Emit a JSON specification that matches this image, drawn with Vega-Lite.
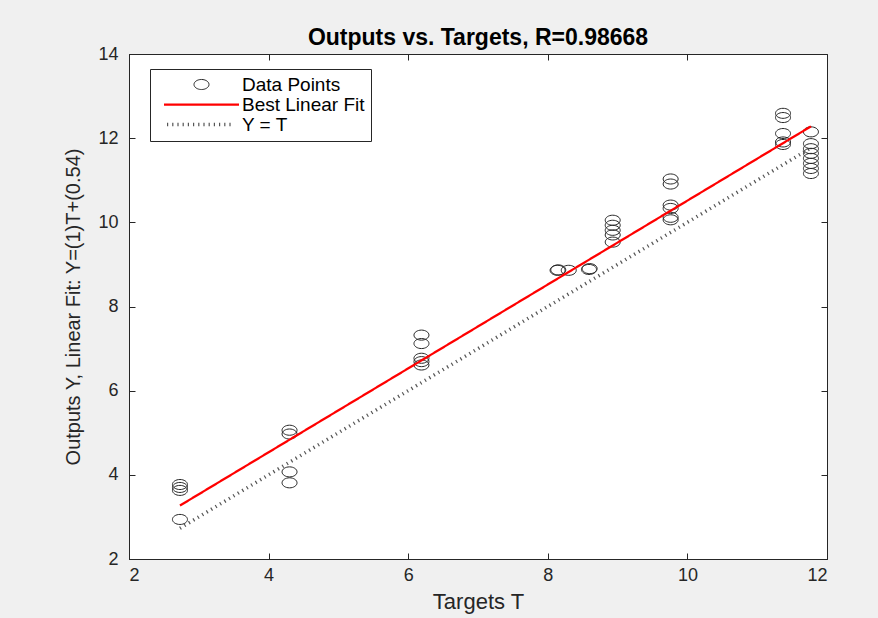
{
  "$schema": "https://vega.github.io/schema/vega-lite/v6.json",
  "width": 698,
  "height": 505,
  "autosize": {"type": "none"},
  "padding": {"left": 129, "top": 54, "right": 51, "bottom": 59},
  "background": "#f0f0f0",
  "title": {
    "text": "Outputs vs. Targets, R=0.98668",
    "font": "Liberation Sans",
    "fontSize": 23,
    "fontWeight": "bold",
    "color": "#000000",
    "baseline": "alphabetic",
    "offset": 8,
    "dy": 31,
    "anchor": "middle"
  },
  "config": {
    "view": {"fill": "white", "stroke": "#262626", "strokeWidth": 1},
    "axis": {
      "grid": false,
      "labelFont": "Liberation Sans",
      "labelFontSize": 18,
      "labelColor": "#262626",
      "titleFont": "Liberation Sans",
      "titleFontSize": 22,
      "titleFontWeight": "normal",
      "titleColor": "#262626",
      "tickColor": "#262626",
      "domainColor": "#262626",
      "tickSize": -6
    },
    "legend": {
      "orient": "none",
      "legendX": 21,
      "legendY": 15,
      "strokeColor": "#262626",
      "fillColor": "white",
      "padding": 6,
      "symbolSize": 225,
      "symbolOffset": 36,
      "labelOffset": 31,
      "rowPadding": 0,
      "labelFont": "Liberation Sans",
      "labelFontSize": 19,
      "labelColor": "#000000",
      "direction": "vertical",
      "columns": 1
    }
  },
  "datasets": {
    "points": [
      {"t": 2.73, "y": 3.77}, {"t": 2.73, "y": 3.70}, {"t": 2.73, "y": 3.63}, {"t": 2.73, "y": 2.94},
      {"t": 4.30, "y": 5.06}, {"t": 4.30, "y": 4.97}, {"t": 4.30, "y": 4.07}, {"t": 4.30, "y": 3.81},
      {"t": 6.19, "y": 7.32}, {"t": 6.19, "y": 7.12}, {"t": 6.19, "y": 6.77}, {"t": 6.19, "y": 6.69}, {"t": 6.19, "y": 6.61},
      {"t": 8.14, "y": 8.86}, {"t": 8.15, "y": 8.87}, {"t": 8.30, "y": 8.86}, {"t": 8.59, "y": 8.88}, {"t": 8.60, "y": 8.90},
      {"t": 8.93, "y": 10.05}, {"t": 8.93, "y": 9.93}, {"t": 8.93, "y": 9.81}, {"t": 8.93, "y": 9.70}, {"t": 8.93, "y": 9.53},
      {"t": 9.76, "y": 11.03}, {"t": 9.76, "y": 10.91}, {"t": 9.76, "y": 10.41}, {"t": 9.76, "y": 10.33}, {"t": 9.76, "y": 10.12}, {"t": 9.76, "y": 10.06},
      {"t": 11.37, "y": 12.59}, {"t": 11.37, "y": 12.49}, {"t": 11.37, "y": 12.11}, {"t": 11.37, "y": 11.91}, {"t": 11.37, "y": 11.85},
      {"t": 11.77, "y": 12.15}, {"t": 11.77, "y": 11.87}, {"t": 11.77, "y": 11.75}, {"t": 11.77, "y": 11.64}, {"t": 11.77, "y": 11.52}, {"t": 11.77, "y": 11.40}, {"t": 11.77, "y": 11.28}, {"t": 11.77, "y": 11.16}
    ],
    "lines": [
      {"t": 2.73, "y": 3.27, "series": "Best Linear Fit"},
      {"t": 11.77, "y": 12.28, "series": "Best Linear Fit"},
      {"t": 2.73, "y": 2.73, "series": "Y = T"},
      {"t": 11.77, "y": 11.77, "series": "Y = T"}
    ]
  },
  "layer": [
    {
      "data": {"name": "points"},
      "transform": [{"calculate": "'Data Points'", "as": "series"}],
      "mark": {"type": "point", "filled": false, "size": 225, "strokeWidth": 1, "opacity": 1},
      "encoding": {
        "x": {
          "field": "t", "type": "quantitative",
          "scale": {"domain": [2, 12], "nice": false, "zero": false},
          "axis": {"orient": "bottom", "title": "Targets T", "values": [2, 4, 6, 8, 10, 12], "labelPadding": 13, "titleBaseline": "alphabetic", "titleY": 49}
        },
        "y": {
          "field": "y", "type": "quantitative",
          "scale": {"domain": [2, 14], "nice": false, "zero": false},
          "axis": {"orient": "left", "title": "Outputs Y,  Linear Fit: Y=(1)T+(0.54)", "values": [2, 4, 6, 8, 10, 12, 14], "labelPadding": 17, "titleBaseline": "alphabetic", "titleX": -50, "titleFontSize": 20}
        },
        "color": {
          "field": "series", "type": "nominal",
          "scale": {"domain": ["Data Points", "Best Linear Fit", "Y = T"], "range": ["#262626", "#ff0000", "#555555"]},
          "legend": {"title": null}
        },
        "shape": {
          "field": "series", "type": "nominal",
          "scale": {"domain": ["Data Points", "Best Linear Fit", "Y = T"], "range": ["M -1 0 A 1 0.67 0 1 0 1 0 A 1 0.67 0 1 0 -1 0 Z", "M -5 0 L 5 0", "M -4.6 0 L 4.3 0"]},
          "legend": {"title": null}
        }
      }
    },
    {
      "data": {"name": "lines"},
      "mark": {"type": "line"},
      "encoding": {
        "x": {"field": "t", "type": "quantitative", "axis": {"orient": "top", "title": null, "labels": false, "domain": false, "values": [2, 4, 6, 8, 10, 12]}},
        "y": {"field": "y", "type": "quantitative", "axis": {"orient": "right", "title": null, "labels": false, "domain": false, "values": [2, 4, 6, 8, 10, 12, 14]}},
        "detail": {"field": "series", "type": "nominal"},
        "color": {"field": "series", "type": "nominal", "legend": {"title": null}},
        "strokeDash": {
          "field": "series", "type": "nominal",
          "scale": {"domain": ["Data Points", "Best Linear Fit", "Y = T"], "range": [[1, 0], [1, 0], [1.2, 4]]},
          "legend": {"title": null}
        },
        "strokeWidth": {
          "field": "series", "type": "nominal",
          "scale": {"domain": ["Data Points", "Best Linear Fit", "Y = T"], "range": [1, 3.5, 0.9]},
          "legend": {"title": null}
        }
      }
    }
  ],
  "resolve": {"axis": {"x": "independent", "y": "independent"}}
}
